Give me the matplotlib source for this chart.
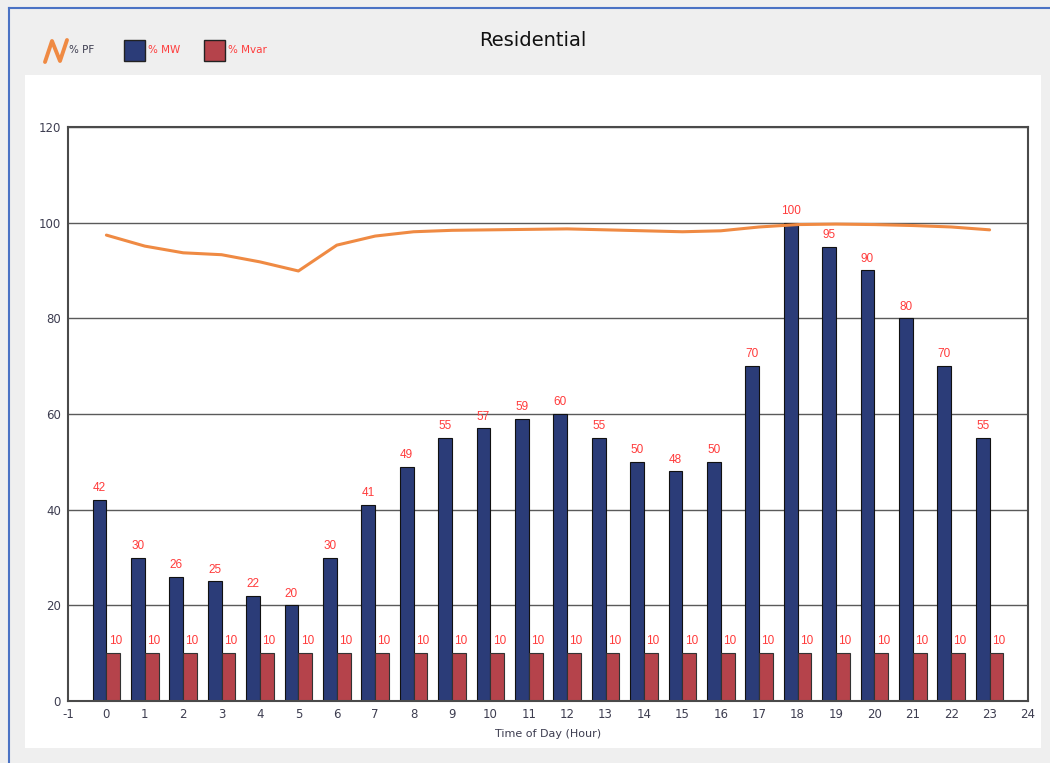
import numpy as np
import matplotlib.pyplot as plt
from matplotlib.lines import Line2D
from matplotlib.patches import Rectangle

# chart data
hours = list(range(24))
mw_pct = [42, 30, 26, 25, 22, 20, 30, 41, 49, 55, 57, 59,
          60, 55, 50, 48, 50, 70, 100, 95, 90, 80, 70, 55]
mvar_pct = [10] * 24
pf_pct = [97.4, 95.1, 93.7, 93.3, 91.8, 89.9, 95.3, 97.2, 98.1, 98.4, 98.5, 98.6,
          98.7, 98.5, 98.3, 98.1, 98.3, 99.1, 99.6, 99.7, 99.6, 99.4, 99.1, 98.5]
x_ticks = list(range(-1, 25))
y_ticks = [0, 20, 40, 60, 80, 100, 120]

MW_COLOR = "#2b3c78"
MVAR_COLOR = "#b5434b"
PF_COLOR = "#ef8a43"
LABEL_RED = "#ff3b3b"
TEXT_COLOR = "#3d3d50"

plt.rcParams["axes.unicode_minus"] = False


def fx(px):
    return px / 1050


def fy(py):
    return 1 - py / 763


def draw_background(fig):
    fig.patch.set_facecolor("#efefef")
    # white plotting panel, kept under the axes
    fig.patches.append(Rectangle((fx(25), fy(748)), fx(1041 - 25), (748 - 75) / 763,
                                 transform=fig.transFigure, facecolor="white",
                                 edgecolor="none", zorder=-5))
    # thin blue frame on the left and top
    fig.lines.append(Line2D([fx(9), fx(9)], [0, fy(8)], transform=fig.transFigure,
                            color="#4a72c4", linewidth=1.5))
    fig.lines.append(Line2D([fx(9), 1], [fy(8), fy(8)], transform=fig.transFigure,
                            color="#4a72c4", linewidth=1.5))


def draw_legend(fig):
    ty = fy(50)
    # italic N shaped line symbol for the PF series
    fig.lines.append(Line2D([fx(45), fx(52), fx(60), fx(67)],
                            [fy(62), fy(41), fy(61), fy(40)],
                            transform=fig.transFigure, color=PF_COLOR, linewidth=2.8,
                            solid_joinstyle="round", solid_capstyle="round"))
    fig.text(fx(69), ty, "% PF", color=TEXT_COLOR, fontsize=7.5, va="center", ha="left")
    for x0, col, lab in [(124, MW_COLOR, "% MW"), (204, MVAR_COLOR, "% Mvar")]:
        fig.patches.append(Rectangle((fx(x0), fy(61)), fx(21), 21 / 763,
                                     transform=fig.transFigure, facecolor=col,
                                     edgecolor="#222222", linewidth=1))
        fig.text(fx(x0 + 24), ty, lab, color=LABEL_RED, fontsize=7.5, va="center", ha="left")


def main():
    fig = plt.figure(figsize=(10.5, 7.63), dpi=100)
    draw_background(fig)
    draw_legend(fig)

    ax = fig.add_axes([fx(68), fy(701), fx(960), 574 / 763])
    ax.set_facecolor("white")

    w = 0.36
    x = np.array(hours)
    mw_bars = ax.bar(x - w, mw_pct, width=w, align="edge", color=MW_COLOR,
                     edgecolor="#111111", linewidth=0.8, zorder=2)
    mv_bars = ax.bar(x, mvar_pct, width=w, align="edge", color=MVAR_COLOR,
                     edgecolor="#333333", linewidth=0.8, zorder=2)

    for b, v in zip(mw_bars, mw_pct):
        ax.text(b.get_x() + w / 2, v + 1.2, str(v), ha="center", va="bottom",
                color=LABEL_RED, fontsize=8.5, family="Liberation Sans", zorder=4)
    for b, v in zip(mv_bars, mvar_pct):
        ax.text(b.get_x() + w / 2 + 0.05, v + 1.2, str(v), ha="center", va="bottom",
                color=LABEL_RED, fontsize=8.5, family="Liberation Sans", zorder=4)

    ax.plot(hours, pf_pct, color=PF_COLOR, linewidth=2.2, zorder=3, solid_capstyle="round")

    ax.set_xlim(-1, 24)
    ax.set_ylim(0, 120)
    ax.set_xticks(x_ticks)
    ax.set_yticks(y_ticks)
    ax.tick_params(length=0, labelsize=8.5, labelcolor=TEXT_COLOR, pad=5)
    ax.yaxis.grid(True, color="#5a5a5a", linewidth=1, zorder=0)
    ax.set_axisbelow(True)
    for s in ax.spines.values():
        s.set_color("#4a4a4a")
        s.set_linewidth(1.5)

    ax.set_xlabel("Time of Day (Hour)", fontsize=8, color=TEXT_COLOR, labelpad=6)
    fig.text(fx(533), fy(40), "Residential", ha="center", va="center",
             fontsize=14, color="#111111")

    fig.savefig("out.png", dpi=100, facecolor=fig.get_facecolor())
    plt.close(fig)


if __name__ == "__main__":
    main()
